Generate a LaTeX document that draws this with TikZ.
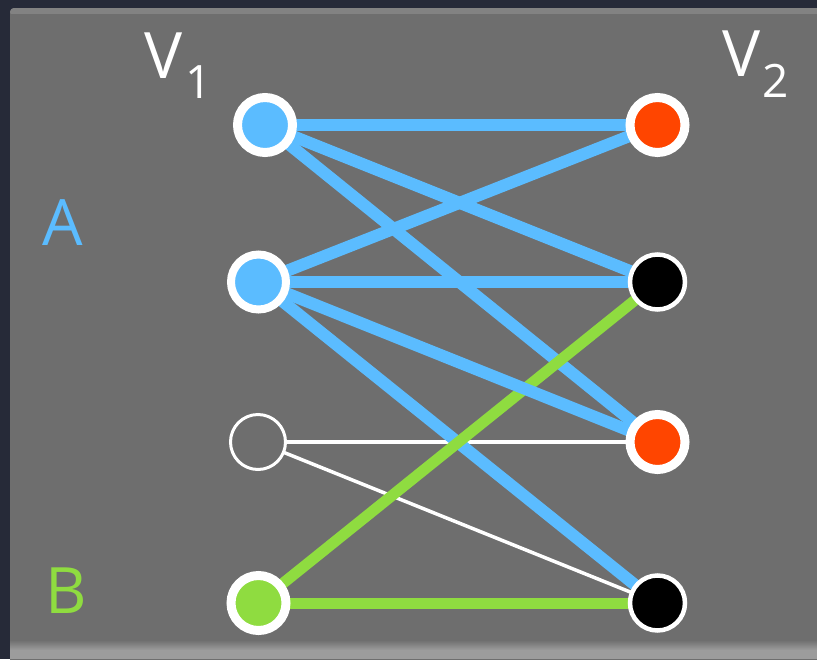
\documentclass[tikz,border=0pt]{standalone}
\usepackage{fontspec}
\setmainfont{Open Sans}
\definecolor{frame}{HTML}{262A38}
\definecolor{panel}{HTML}{6E6E6E}
\definecolor{paneltop}{HTML}{828282}
\definecolor{panelbot}{HTML}{9C9C9C}
\definecolor{cblue}{HTML}{5BBCFF}
\definecolor{cred}{HTML}{FF4500}
\definecolor{cgreen}{HTML}{8FDC40}
\tikzset{
  vtx/.style={circle, minimum size=55pt, inner sep=0pt, draw=white},
  thick ring/.style={vtx, line width=9pt},
  thin ring/.style={vtx, line width=4.5pt},
  blueedge/.style={cblue, line width=12pt},
  greenedge/.style={cgreen, line width=11pt},
  whiteedge/.style={white, line width=3.5pt},
  bigtext/.style={inner sep=0pt, font=\fontsize{64}{64}\selectfont},
}
\begin{document}
\begin{tikzpicture}[x=1pt, y=-1pt]
\useasboundingbox (0,0) rectangle (817,659);
% background
\fill[frame] (0,0) rectangle (817,659);
\fill[panel, rounded corners=4pt] (10,8) rectangle (830,670);
\fill[paneltop, rounded corners=4pt] (10,8) rectangle (830,16);
\fill[panel] (10,14) rectangle (817,40);
\shade[top color=panel, bottom color=panelbot] (10,640) rectangle (817,650);
\fill[panelbot] (10,650) rectangle (817,659);

% vertices (positions)
\coordinate (pa1) at (265,125);
\coordinate (pa2) at (258.5,282);
\coordinate (pa3) at (258,442);
\coordinate (pa4) at (258.5,603);
\coordinate (pb1) at (657.5,125);
\coordinate (pb2) at (657.5,282);
\coordinate (pb3) at (657.5,442);
\coordinate (pb4) at (657.5,603);

% edges
\draw[whiteedge] (pa3) -- (pb3);
\draw[whiteedge] (pa3) -- (pb4);
\draw[blueedge] (pa1) -- (pb1);
\draw[blueedge] (pa1) -- (pb2);
\draw[blueedge] (pa1) -- (pb3);
\draw[blueedge] (pa2) -- (pb1);
\draw[blueedge] (pa2) -- (pb2);
\draw[blueedge] (pa2) -- (pb4);
\draw[greenedge] (pa4) -- (pb2);
\draw[greenedge] (pa4) -- (pb4);
\draw[blueedge] (pa2) -- (pb3);

% vertex nodes
\node[thick ring, fill=cblue] (a1) at (pa1) {};
\node[thick ring, fill=cblue, line width=8pt] (a2) at (pa2) {};
\node[vtx, line width=3pt, fill=panel] (a3) at (pa3) {};
\node[thick ring, fill=cgreen] (a4) at (pa4) {};
\node[thick ring, fill=cred] (b1) at (pb1) {};
\node[thin ring, fill=black] (b2) at (pb2) {};
\node[thick ring, fill=cred] (b3) at (pb3) {};
\node[thin ring, fill=black] (b4) at (pb4) {};

% labels
\node[bigtext, text=white, anchor=base west] (v1) at (144,78) {V\kern3pt\raisebox{-20pt}{\fontsize{46}{46}\selectfont 1}};
\node[bigtext, text=white, anchor=base west] (v2) at (722,76) {V\kern2pt\raisebox{-21pt}{\fontsize{46}{46}\selectfont 2}};
\node[bigtext, text=cblue, anchor=base west] (la) at (42,245) {A};
\node[bigtext, text=cgreen, anchor=base west] (lb) at (45,613) {B};
\end{tikzpicture}
\end{document}
